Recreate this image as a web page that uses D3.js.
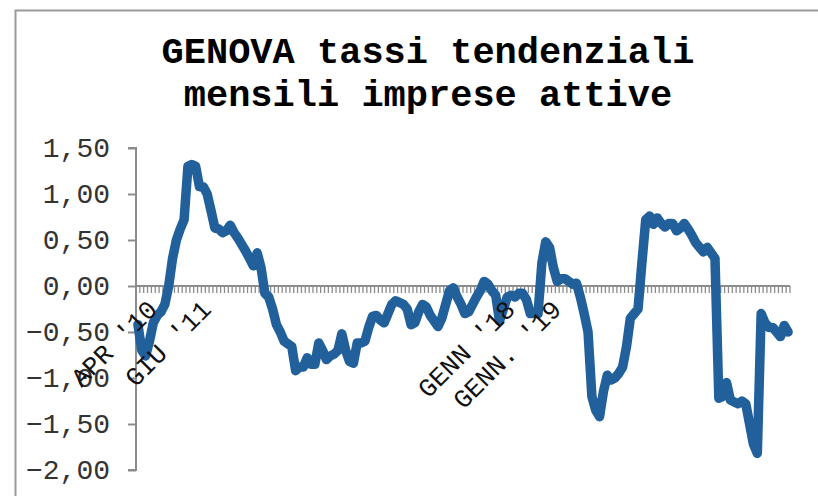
<!DOCTYPE html>
<html>
<head>
<meta charset="utf-8">
<script src="https://cdn.jsdelivr.net/npm/d3@7"></script>
<style>
  body { margin: 0; background: #fff; }
  svg { display: block; }
</style>
</head>
<body>
<div id="chart-area"></div>
<script>
// monthly values, APR 2010 - MAY 2024
const values = [
  -0.42, -0.70, -0.76, -0.60, -0.40, -0.32, -0.28, -0.20, 0.00, 0.30,
  0.50, 0.62, 0.72, 1.30, 1.32, 1.30, 1.08, 1.08, 1.00, 0.82,
  0.63, 0.62, 0.58, 0.60, 0.66, 0.58, 0.52, 0.45, 0.38, 0.30,
  0.22, 0.36, 0.20, -0.08, -0.12, -0.25, -0.42, -0.50, -0.60, -0.63,
  -0.66, -0.92, -0.88, -0.88, -0.78, -0.85, -0.85, -0.62, -0.70, -0.80,
  -0.76, -0.74, -0.70, -0.52, -0.70, -0.82, -0.84, -0.62, -0.62, -0.60,
  -0.45, -0.33, -0.32, -0.37, -0.40, -0.30, -0.20, -0.16, -0.18, -0.20,
  -0.25, -0.42, -0.40, -0.28, -0.20, -0.23, -0.32, -0.38, -0.44, -0.35,
  -0.20, -0.05, -0.02, -0.12, -0.20, -0.30, -0.28, -0.20, -0.12, -0.05,
  0.05, 0.02, -0.05, -0.10, -0.38, -0.25, -0.12, -0.10, -0.12, -0.08,
  -0.08, -0.15, -0.30, -0.30, -0.30, 0.25, 0.48, 0.42, 0.20, 0.05,
  0.08, 0.08, 0.05, 0.02, 0.03, -0.12, -0.30, -0.50, -1.20, -1.35,
  -1.42, -1.15, -0.97, -1.02, -1.00, -0.95, -0.88, -0.66, -0.35, -0.30,
  -0.25, 0.25, 0.72, 0.76, 0.67, 0.74, 0.68, 0.64, 0.68, 0.68,
  0.60, 0.63, 0.68, 0.62, 0.55, 0.47, 0.42, 0.37, 0.42, 0.36,
  0.30, -1.22, -1.20, -1.05, -1.24, -1.26, -1.28, -1.25, -1.28, -1.50,
  -1.72, -1.82, -0.30, -0.40, -0.45, -0.45, -0.50, -0.55, -0.43, -0.50
];
// category labels shown by the axis (others blank)
const labelIndex = [0, 14, 93, 105];
const labelText = ["APR '10", "GIU '11", "GENN '18", "GENN. '19"];
const yTicks = [1.5, 1.0, 0.5, 0.0, -0.5, -1.0, -1.5, -2.0];
const titleLines = ["GENOVA tassi tendenziali", "mensili imprese attive"];

const W = 818, H = 496;
const margin = { left: 136, right: 28, top: 148, bottom: 26 };
const width = W - margin.left - margin.right;
const height = H - margin.top - margin.bottom;
const mono = "'Liberation Mono', 'Courier New', monospace";

const svg = d3.select("#chart-area")
    .append("svg")
    .attr("width", W)
    .attr("height", H);

// chart area frame
svg.append("path")
    .attr("d", "M15.5," + H + "V10.5H" + W)
    .attr("fill", "none")
    .attr("stroke", "#9a9a9a")
    .attr("stroke-width", 2);

// title
svg.append("g").selectAll("text")
    .data(titleLines)
    .enter()
    .append("text")
    .attr("x", 428)
    .attr("y", (d, i) => 63 + i * 43)
    .attr("text-anchor", "middle")
    .attr("font-family", mono)
    .attr("font-weight", "bold")
    .attr("font-size", "37px")
    .text(d => d);

const g = svg.append("g")
    .attr("transform", "translate(" + margin.left + ", " + margin.top + ")");

const y = d3.scaleLinear()
    .domain([-2, 1.5])
    .range([height, 0]);

const x = d3.scaleBand()
    .domain(d3.range(values.length))
    .range([0, width]);

// y axis
const yAxisCall = d3.axisLeft(y)
    .tickValues(yTicks)
    .tickSize(8)
    .tickPadding(18)
    .tickFormat(d => d3.format(".2f")(d).replace(".", ",").replace("-", "\u2212"));
const yAxis = g.append("g")
    .attr("class", "y-axis")
    .call(yAxisCall);
yAxis.select(".domain")
    .attr("d", "M-8," + y(1.5) + "H0V" + y(-2) + "H-8")
    .attr("stroke", "#8c8c8c")
    .attr("stroke-width", 2);
yAxis.selectAll(".tick line").attr("stroke", "#8c8c8c").attr("stroke-width", 2);
yAxis.selectAll(".tick text")
    .attr("font-family", mono)
    .attr("font-size", "28px")
    .attr("fill", "#333");

// x axis at zero with monthly ticks
const x0 = y(0);
g.append("line")
    .attr("x1", 0)
    .attr("x2", width)
    .attr("y1", x0)
    .attr("y2", x0)
    .attr("stroke", "#8c8c8c")
    .attr("stroke-width", 2);
g.append("g").selectAll("line")
    .data(d3.range(values.length + 1))
    .enter()
    .append("line")
    .attr("x1", d => d * x.step())
    .attr("x2", d => d * x.step())
    .attr("y1", x0)
    .attr("y2", x0 + 7)
    .attr("stroke", "#8c8c8c")
    .attr("stroke-width", 1.3);

// series line
const line = d3.line()
    .x((d, i) => x(i) + x.bandwidth() / 2)
    .y(d => y(d));
g.append("path")
    .datum(values)
    .attr("fill", "none")
    .attr("stroke", "#22609c")
    .attr("stroke-width", 9.5)
    .attr("stroke-linejoin", "round")
    .attr("stroke-linecap", "round")
    .attr("d", line);

// category labels, rotated
g.append("g").selectAll("text")
    .data(labelIndex)
    .enter()
    .append("text")
    .attr("transform", d => "translate(" + (x(d) + x.bandwidth() / 2 + 8) + ", " + (x0 + 12) + ") rotate(-45)")
    .attr("text-anchor", "end")
    .attr("dy", "0.7em")
    .attr("font-family", mono)
    .attr("font-size", "26px")
    .attr("fill", "#111")
    .text((d, i) => labelText[i]);
</script>
</body>
</html>
